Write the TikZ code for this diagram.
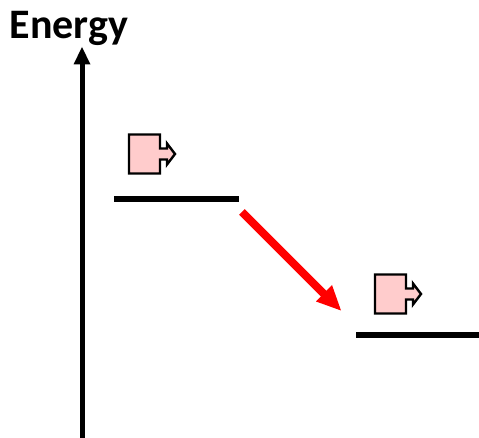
\documentclass[tikz,border=0pt]{standalone}
\usepackage{fontspec}
\setmainfont{Carlito}
\definecolor{boxpink}{RGB}{255,204,204}
\tikzset{
  level/.style={line width=4.5pt},
  axisline/.style={line width=3.75pt},
  glyph/.style={draw=black,fill=boxpink,line width=1.8pt,miter limit=10},
  title/.style={inner sep=0pt,anchor=base west,font=\bfseries\fontsize{31.5}{36}\selectfont}
}
\newcommand{\pinkglyph}[2]{%
  \draw[glyph,shift={(#1,#2)}] (0,0) -- (31,0) -- (31,14) -- (38,14) -- (38,9) -- (46,19.5) -- (38,30) -- (38,25) -- (31,25) -- (31,39) -- (0,39) -- cycle;}
\begin{document}
\begin{tikzpicture}[x=0.75pt,y=-0.75pt]
\useasboundingbox (0,0) rectangle (479,438);
\node[title] (energy) at (9.5,39) {Energy};
\coordinate (axisbottom) at (82,438);
\coordinate (axistop) at (82,64);
\coordinate (axistip) at (82,47);
\draw[axisline] (axisbottom) -- (axistop);
\fill (axistip) -- (90.5,64.5) -- (73.5,64.5) -- cycle;
\pinkglyph{129}{134.5}
\pinkglyph{375}{274.5}
\coordinate (l1a) at (114,199);
\coordinate (l1b) at (239,199);
\coordinate (l2a) at (356,335);
\coordinate (l2b) at (479,335);
\draw[level] (l1a) -- (l1b);
\draw[level] (l2a) -- (l2b);
\coordinate (redstart) at (242,212);
\coordinate (redend) at (325,295);
\draw[red,line width=6pt] (redstart) -- (redend);
\fill[red] (341,310.5) -- (316,301.5) -- (332,285) -- cycle;
\end{tikzpicture}
\end{document}
